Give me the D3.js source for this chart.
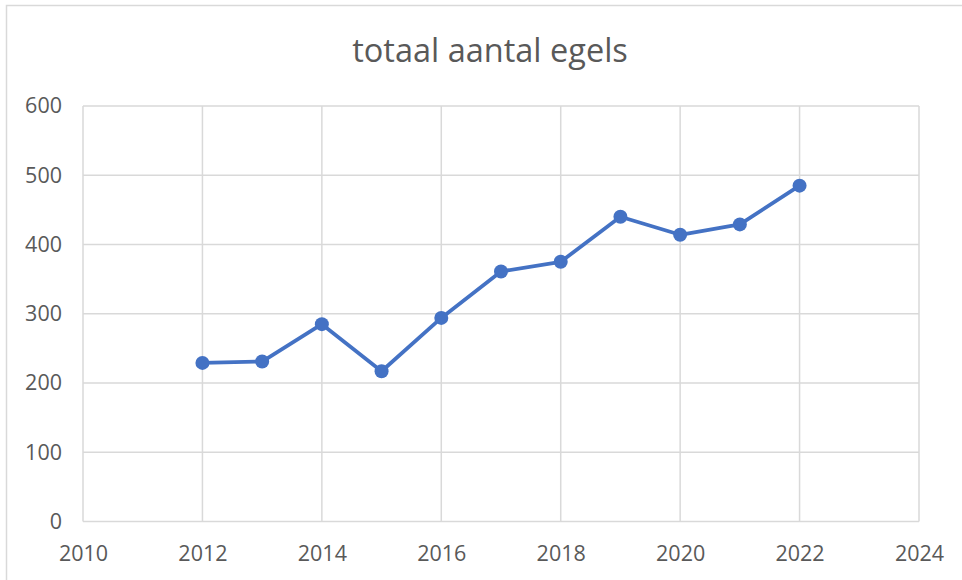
<!DOCTYPE html>
<html><head><meta charset="utf-8">
<script src="https://cdn.jsdelivr.net/npm/d3@7"></script>
<style>body{margin:0;background:#fff;} svg{display:block;}</style>
</head><body>
<svg id="c" width="962" height="580"></svg>
<script>
const years = [2012, 2013, 2014, 2015, 2016, 2017, 2018, 2019, 2020, 2021, 2022];
const counts = [229, 231, 285, 217, 294, 361, 375, 440, 414, 429, 485];
const xTicks = [2010, 2012, 2014, 2016, 2018, 2020, 2022, 2024];
const yTicks = [0, 100, 200, 300, 400, 500, 600];
const title = "totaal aantal egels";

const svg = d3.select("#c");
const font = "'Open Sans', Lato, sans-serif";
const m = {l: 83, r: 919, t: 106, b: 521.5};

// outer chart border
svg.append("path").attr("d", "M6.5,590V5.5H970").attr("fill", "none").attr("stroke", "#d9d9d9").attr("stroke-width", 1.5);

const x = d3.scaleLinear().domain([2010, 2024]).range([m.l, m.r]);
const y = d3.scaleLinear().domain([0, 600]).range([m.b, m.t]);

// grid
svg.append("g").selectAll("line").data(yTicks).join("line")
  .attr("x1", m.l).attr("x2", m.r).attr("y1", d => y(d)).attr("y2", d => y(d))
  .attr("stroke", "#d9d9d9").attr("stroke-width", 1.5);
svg.append("g").selectAll("line").data(xTicks).join("line")
  .attr("x1", d => x(d)).attr("x2", d => x(d)).attr("y1", m.t).attr("y2", m.b)
  .attr("stroke", "#d9d9d9").attr("stroke-width", 1.5);

// axes labels
const yAxis = d3.axisLeft(y).tickValues(yTicks).tickSize(0).tickPadding(21);
const gy = svg.append("g").attr("transform", `translate(${m.l},0)`).call(yAxis);
gy.select(".domain").remove();
gy.selectAll("text").attr("fill", "#595959").style("font-family", font).style("font-size", "21.5px");

const xAxis = d3.axisBottom(x).tickValues(xTicks).tickFormat(d3.format("d")).tickSize(0).tickPadding(24);
const gx = svg.append("g").attr("transform", `translate(0,${m.b})`).call(xAxis);
gx.select(".domain").remove();
gx.selectAll("text").attr("fill", "#595959").style("font-family", font).style("font-size", "21.5px");

// line
const data = years.map((yr, i) => ({yr, v: counts[i]}));
svg.append("path").datum(data)
  .attr("d", d3.line().x(d => x(d.yr)).y(d => y(d.v)))
  .attr("fill", "none").attr("stroke", "#4472C4").attr("stroke-width", 3.8).attr("stroke-linejoin", "round");
svg.append("g").selectAll("circle").data(data).join("circle")
  .attr("cx", d => x(d.yr)).attr("cy", d => y(d.v)).attr("r", 7).attr("fill", "#4472C4");

// title
svg.append("text").attr("x", 490).attr("y", 62).attr("text-anchor", "middle")
  .attr("fill", "#595959").style("font-family", font).style("font-size", "32.5px").text(title);
</script>
</body></html>
